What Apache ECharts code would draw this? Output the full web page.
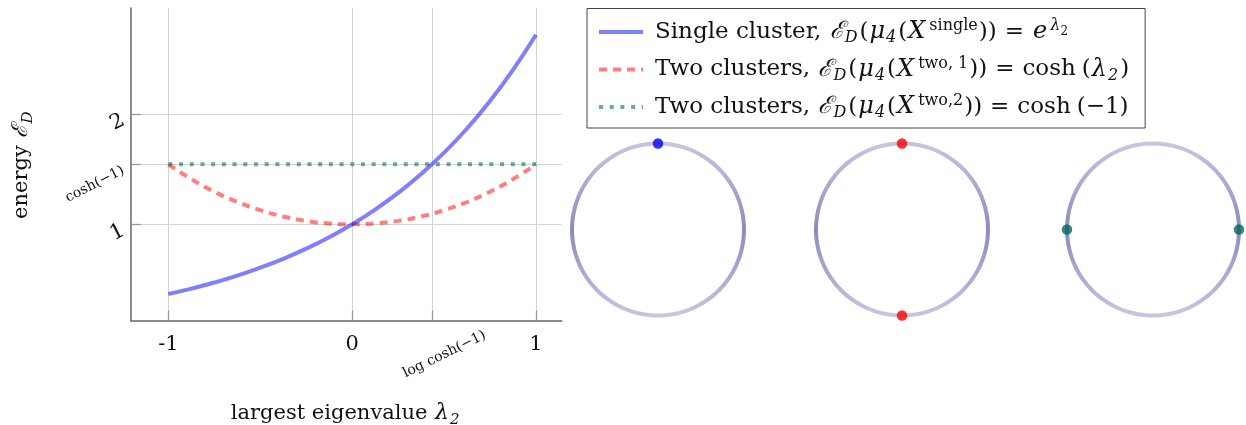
<!DOCTYPE html>
<html><head><meta charset="utf-8">
<script src="https://cdn.jsdelivr.net/npm/echarts@6/dist/echarts.min.js"></script>
<style>html,body{margin:0;padding:0;background:#fff}#c{width:1246px;height:425px}</style>
</head><body><div id="c"></div>
<script>
// ---- data ----
const lambdaValues = [-1, -0.875, -0.75, -0.625, -0.5, -0.375, -0.25, -0.125, 0, 0.125, 0.25, 0.375, 0.5, 0.625, 0.75, 0.875, 1];
const singleEnergy = [0.368, 0.417, 0.472, 0.535, 0.607, 0.687, 0.779, 0.882, 1.000, 1.133, 1.284, 1.455, 1.649, 1.868, 2.117, 2.399, 2.718];
const twoClusters1Energy = [1.543, 1.409, 1.295, 1.202, 1.128, 1.071, 1.031, 1.008, 1.000, 1.008, 1.031, 1.071, 1.128, 1.202, 1.295, 1.409, 1.543];
const twoClusters2Lambda = [-1, 1];
const twoClusters2Energy = [1.543, 1.543];

const xTickValues = [-1, 0, 0.434, 1];
const xTickLabels = ['-1', '0', '', '1'];
const xExtraTickValues = [0.434];
const xExtraTickLabels = ['log cosh(−1)'];
const yTickValues = [1, 1.543, 2];
const yTickLabels = ['1', 'cosh(−1)', '2'];

const seriesNames = ['single', 'two1', 'two2'];
const legendLabels = [
  '{p|}{t|Single cluster, }{m|ℰ}{b|D}{t|(}{m|μ}{b|4}{t|(}{m|X}{u|single}{t|))}{eq|=}{m|e}{um|λ}{ub|2}',
  '{p|}{t|Two clusters, }{m|ℰ}{b|D}{t|(}{m|μ}{b|4}{t|(}{m|X}{u|two, 1}{t|))}{eq|=}{t|cosh}{sp|}{t|(}{m|λ}{b|2}{t|)}',
  '{p|}{t|Two clusters, }{m|ℰ}{b|D}{t|(}{m|μ}{b|4}{t|(}{m|X}{u|two,2}{t|))}{eq|=}{t|cosh}{sp|}{t|(−1)}'
];

const circleAngles = [0, 5, 10, 15, 20, 25, 30, 35, 40, 45, 50, 55, 60, 65, 70, 75, 80, 85, 90,
  95, 100, 105, 110, 115, 120, 125, 130, 135, 140, 145, 150, 155, 160, 165, 170, 175, 180,
  185, 190, 195, 200, 205, 210, 215, 220, 225, 230, 235, 240, 245, 250, 255, 260, 265, 270,
  275, 280, 285, 290, 295, 300, 305, 310, 315, 320, 325, 330, 335, 340, 345, 350, 355, 360];
const singleClusterAngles = [90];
const twoClusters1Angles = [90, 270];
const twoClusters2Angles = [0, 180];
const circleDotColors = ['#0000ff', '#ff0000', '#006a5e'];

// ---- chart ----
const F = 'DejaVu Serif';
const C = '#111';
const richAxis = {
  t: {fontFamily: F, fontSize: 21, lineHeight: 28, verticalAlign: 'middle', color: C},
  m: {fontFamily: F, fontSize: 22, lineHeight: 28, verticalAlign: 'middle', fontStyle: 'italic', color: C, padding: [0, 1, 0, 1]},
  b: {fontFamily: F, fontSize: 15, verticalAlign: 'bottom', fontStyle: 'italic', color: C, padding: [0, 2, 0, 0]}
};
const richLegend = {
  p: {width: 7},
  sp: {width: 6},
  t: {fontFamily: F, fontSize: 23, lineHeight: 28, verticalAlign: 'middle', color: C},
  eq: {fontFamily: F, fontSize: 23, lineHeight: 28, verticalAlign: 'middle', color: C, padding: [0, 8, 0, 8]},
  m: {fontFamily: F, fontSize: 24, lineHeight: 28, verticalAlign: 'middle', fontStyle: 'italic', color: C, padding: [0, 1, 0, 1]},
  b: {fontFamily: F, fontSize: 16, verticalAlign: 'bottom', fontStyle: 'italic', color: C, padding: [0, 2, 0, 0]},
  u: {fontFamily: F, fontSize: 16, verticalAlign: 'top', color: C, padding: [0, 1, 0, 3]},
  um: {fontFamily: F, fontSize: 16, verticalAlign: 'top', fontStyle: 'italic', color: C, padding: [0, 0, 0, 2]},
  ub: {fontFamily: F, fontSize: 12, verticalAlign: 'top', padding: [8, 0, 0, 0], color: C}
};

const chart = echarts.init(document.getElementById('c'), null, {renderer: 'canvas'});
const xy = (xs, ys) => xs.map((x, i) => [x, ys[i]]);
const circleStroke = {
  type: 'linear', x: 0, y: 0, x2: 0, y2: 1,
  colorStops: [{offset: 0, color: '#c8c8e2'}, {offset: 0.5, color: '#8b8bbf'}, {offset: 1, color: '#c8c8e2'}]
};
const polarCenters = [[658, 229.5], [902, 229.5], [1153, 229.5]];
const circlePixelRadius = 86;
const radiusMax = 1.12; // headroom so the stroke and dots are not clipped
const dotAngles = [singleClusterAngles, twoClusters1Angles, twoClusters2Angles];

const polarSeries = [];
polarCenters.forEach((c, i) => {
  polarSeries.push({
    type: 'line', coordinateSystem: 'polar', polarIndex: i, symbol: 'none', silent: true,
    data: circleAngles.map(a => [1, a]), smooth: 0.3, z: 2,
    lineStyle: {width: 4, color: circleStroke, join: 'round'}
  });
  polarSeries.push({
    type: 'scatter', coordinateSystem: 'polar', polarIndex: i, symbolSize: 10.5, z: 5,
    itemStyle: {color: circleDotColors[i]},
    data: dotAngles[i].map(a => [1, a])
  });
});

const hiddenAxis = {axisLine: {show: false}, axisTick: {show: false}, axisLabel: {show: false}, splitLine: {show: false}};

chart.setOption({
  animation: false,
  backgroundColor: '#fff',
  grid: {left: 130.7, right: 1246 - 561.7, top: 8, bottom: 425 - 320.5, containLabel: false, outerBoundsMode: 'none'},
  legend: {
    data: seriesNames, orient: 'vertical', left: 587, top: 8.5,
    padding: [9.5, 16, 7, 10], itemGap: 9.5, itemWidth: 44, itemHeight: 14,
    borderColor: '#444', borderWidth: 1, backgroundColor: '#fff',
    lineStyle: {width: 4}, itemStyle: {opacity: 0}, selectedMode: false,
    formatter: name => legendLabels[seriesNames.indexOf(name)],
    textStyle: {rich: richLegend}
  },
  xAxis: [{
    type: 'value', min: -1.205, max: 1.14, gridIndex: 0, position: 'bottom',
    axisLine: {show: true, onZero: false, lineStyle: {color: '#666', width: 1.5}},
    axisTick: {show: true, inside: true, length: 10, customValues: xTickValues, lineStyle: {color: '#999', width: 1.3}},
    axisLabel: {customValues: [-1, 0, 1], margin: 14, fontFamily: F, fontSize: 21, color: C,
      formatter: v => xTickLabels[xTickValues.indexOf(v)]},
    splitLine: {show: true, lineStyle: {color: '#d3d3d3', width: 1}},
    name: '{t|largest eigenvalue }{m|λ}{b|2}', nameLocation: 'middle', nameGap: 79,
    nameTextStyle: {rich: richAxis}
  }, {
    type: 'value', min: -1.205, max: 1.14, gridIndex: 0, position: 'bottom',
    axisLine: {show: false}, axisTick: {show: false}, splitLine: {show: false},
    axisLabel: {customValues: xExtraTickValues, rotate: 26, align: 'center', verticalAlign: 'middle', margin: 40,
      formatter: v => '{s|' + xExtraTickLabels[xExtraTickValues.indexOf(v)] + '}',
      rich: {s: {fontFamily: F, fontSize: 14, color: C, padding: [0, 0, 0, 28]}}}
  }],
  yAxis: {
    type: 'value', min: 0.128, max: 2.96,
    axisLine: {show: true, onZero: false, lineStyle: {color: '#666', width: 1.5}},
    axisTick: {show: true, inside: true, length: 10, customValues: yTickValues, lineStyle: {color: '#999', width: 1.3}},
    axisLabel: {customValues: yTickValues, rotate: 27, margin: 10,
      formatter: v => {
        const i = yTickValues.indexOf(v);
        return (i === 1 ? '{s|' : '{b|') + yTickLabels[i] + '}';
      },
      rich: {b: {fontFamily: F, fontSize: 21, color: C, padding: [12, 0, 0, 0]},
             s: {fontFamily: F, fontSize: 14, color: C, padding: [12, 0, 0, 0]}}},
    splitLine: {show: true, lineStyle: {color: '#d3d3d3', width: 1}},
    name: '{t|energy }{m|ℰ}{b|D}', nameLocation: 'middle', nameGap: 95,
    nameTextStyle: {rich: richAxis}
  },
  polar: polarCenters.map(c => ({center: c, radius: circlePixelRadius * radiusMax})),
  angleAxis: polarCenters.map((c, i) => Object.assign({type: 'value', polarIndex: i, min: 0, max: 360, startAngle: 0, clockwise: false}, hiddenAxis)),
  radiusAxis: polarCenters.map((c, i) => Object.assign({type: 'value', polarIndex: i, min: 0, max: radiusMax}, hiddenAxis)),
  series: [{
    name: 'single', type: 'line', smooth: true, symbol: 'none', z: 4,
    lineStyle: {width: 4, color: 'rgba(0,0,255,0.5)', cap: 'butt'},
    itemStyle: {color: 'rgba(0,0,255,0.5)'},
    data: xy(lambdaValues, singleEnergy)
  }, {
    name: 'two1', type: 'line', smooth: true, symbol: 'none', z: 3,
    lineStyle: {width: 4, color: 'rgba(255,0,0,0.5)', type: [8, 6], cap: 'butt'},
    itemStyle: {color: 'rgba(255,0,0,0.5)'},
    data: xy(lambdaValues, twoClusters1Energy)
  }, {
    name: 'two2', type: 'line', symbol: 'none', z: 3,
    lineStyle: {width: 4, color: 'rgba(0,112,70,0.58)', type: [4, 6.7], cap: 'butt'},
    itemStyle: {color: 'rgba(0,112,70,0.58)'},
    data: xy(twoClusters2Lambda, twoClusters2Energy)
  }].concat(polarSeries)
});
</script>
</body></html>
